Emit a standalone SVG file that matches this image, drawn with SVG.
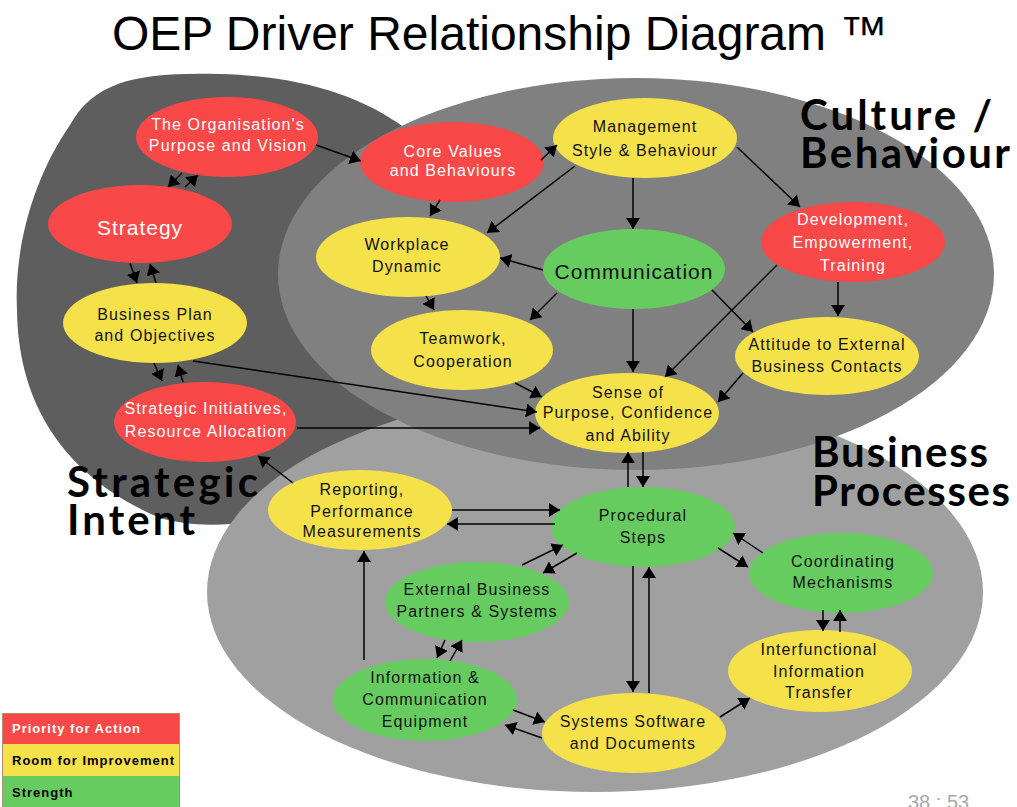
<svg xmlns="http://www.w3.org/2000/svg" width="1017" height="807" viewBox="0 0 1017 807">
  <defs>
    <marker id="ah" markerUnits="userSpaceOnUse" markerWidth="12" markerHeight="14" refX="11" refY="7" orient="auto">
      <path d="M0,0 L11,7 L0,14 Z" fill="#000"/>
    </marker>
    <style>
      .n text { font-family: "Liberation Sans", Arial, sans-serif; font-size: 16px; letter-spacing: 1.1px; text-anchor: middle; fill: #111; }
      .n ellipse { stroke: none; }
      .red ellipse { fill: #f84848; }
      .red text { fill: #ffffff; }
      .yel ellipse { fill: #f5e14a; }
      .grn ellipse { fill: #66cc60; }
      .big text { font-size: 21px; letter-spacing: 1px; }
      #connectors line { stroke: #000; stroke-width: 1.5; marker-end: url(#ah); }
      .region { font-family: Lato, "Liberation Sans", Arial, sans-serif; font-weight: bold; font-size: 42px; fill: #000; }
      .legend { font-family: "Liberation Sans", Arial, sans-serif; font-weight: bold; font-size: 13px; letter-spacing: 1px; }
    </style>
  </defs>

  <rect width="1017" height="807" fill="#ffffff"/>

  <!-- background areas -->
  <g id="areas">
    <path id="area-strategic" fill="#5e5e5e" d="M405,128 C360,95 300,76 220,74 C140,72 95,80 70,125 C32,180 14,250 17,310 C18,400 60,475 160,518 C220,535 300,520 400,470 L500,300 Z"/>
    <ellipse id="area-business" cx="595" cy="592" rx="388" ry="200" fill="#a0a0a0"/>
    <ellipse id="area-culture" cx="636" cy="274" rx="358" ry="196" fill="#808080"/>
  </g>

  <!-- title -->
  <text x="112" y="50" font-family="'Liberation Sans', Arial, sans-serif" font-size="48" fill="#000">OEP Driver Relationship Diagram ™</text>

  <!-- area labels -->
  <g id="area-labels">
    <text class="region" x="800" y="130" textLength="192">Culture /</text>
    <text class="region" x="800" y="168" textLength="210">Behaviour</text>
    <text class="region" x="812" y="467" textLength="176">Business</text>
    <text class="region" x="812" y="506" textLength="198">Processes</text>
    <text class="region" x="67" y="497" textLength="191">Strategic</text>
    <text class="region" x="67" y="535" textLength="128">Intent</text>
  </g>

  <!-- nodes -->
  <g id="n-purpose" class="n red">
    <ellipse cx="227" cy="137" rx="91" ry="40"/>
    <text x="228" y="130">The Organisation's</text>
    <text x="228" y="151">Purpose and Vision</text>
  </g>
  <g id="n-strategy" class="n red big">
    <ellipse cx="140" cy="224" rx="92" ry="39"/>
    <text x="140" y="235">Strategy</text>
  </g>
  <g id="n-plan" class="n yel">
    <ellipse cx="155" cy="323" rx="92" ry="40"/>
    <text x="155" y="320">Business Plan</text>
    <text x="155" y="341">and Objectives</text>
  </g>
  <g id="n-initiatives" class="n red">
    <ellipse cx="205" cy="422" rx="91" ry="40"/>
    <text x="206" y="414">Strategic Initiatives,</text>
    <text x="206" y="437">Resource Allocation</text>
  </g>
  <g id="n-values" class="n red">
    <ellipse cx="452" cy="162" rx="92" ry="40"/>
    <text x="453" y="157">Core Values</text>
    <text x="453" y="176">and Behaviours</text>
  </g>
  <g id="n-management" class="n yel">
    <ellipse cx="645" cy="138" rx="92" ry="40"/>
    <text x="645" y="132">Management</text>
    <text x="645" y="156">Style &amp; Behaviour</text>
  </g>
  <g id="n-workplace" class="n yel">
    <ellipse cx="408" cy="257" rx="92" ry="40"/>
    <text x="407" y="250">Workplace</text>
    <text x="407" y="272">Dynamic</text>
  </g>
  <g id="n-communication" class="n grn big">
    <ellipse cx="634" cy="269" rx="91" ry="40"/>
    <text x="634" y="279">Communication</text>
  </g>
  <g id="n-development" class="n red">
    <ellipse cx="853" cy="242" rx="92" ry="40"/>
    <text x="853" y="225">Development,</text>
    <text x="853" y="248">Empowerment,</text>
    <text x="853" y="271">Training</text>
  </g>
  <g id="n-teamwork" class="n yel">
    <ellipse cx="462" cy="350" rx="91" ry="40"/>
    <text x="463" y="344">Teamwork,</text>
    <text x="463" y="367">Cooperation</text>
  </g>
  <g id="n-attitude" class="n yel">
    <ellipse cx="827" cy="356" rx="92" ry="39"/>
    <text x="827" y="350">Attitude to External</text>
    <text x="827" y="372">Business Contacts</text>
  </g>
  <g id="n-sense" class="n yel">
    <ellipse cx="627" cy="413" rx="92" ry="40"/>
    <text x="628" y="398">Sense of</text>
    <text x="628" y="418">Purpose, Confidence</text>
    <text x="628" y="441">and Ability</text>
  </g>
  <g id="n-reporting" class="n yel">
    <ellipse cx="360" cy="510" rx="92" ry="40"/>
    <text x="362" y="495">Reporting,</text>
    <text x="362" y="517">Performance</text>
    <text x="362" y="537">Measurements</text>
  </g>
  <g id="n-procedural" class="n grn">
    <ellipse cx="643" cy="527" rx="92" ry="40"/>
    <text x="643" y="521">Procedural</text>
    <text x="643" y="543">Steps</text>
  </g>
  <g id="n-coordinating" class="n grn">
    <ellipse cx="841" cy="573" rx="92" ry="40"/>
    <text x="843" y="567">Coordinating</text>
    <text x="843" y="588">Mechanisms</text>
  </g>
  <g id="n-external" class="n grn">
    <ellipse cx="477" cy="602" rx="92" ry="40"/>
    <text x="477" y="595">External Business</text>
    <text x="477" y="617">Partners &amp; Systems</text>
  </g>
  <g id="n-interfunctional" class="n yel">
    <ellipse cx="820" cy="671" rx="92" ry="41"/>
    <text x="819" y="655">Interfunctional</text>
    <text x="819" y="677">Information</text>
    <text x="819" y="698">Transfer</text>
  </g>
  <g id="n-equipment" class="n grn">
    <ellipse cx="425" cy="700" rx="92" ry="41"/>
    <text x="425" y="683">Information &amp;</text>
    <text x="425" y="705">Communication</text>
    <text x="425" y="727">Equipment</text>
  </g>
  <g id="n-software" class="n yel">
    <ellipse cx="634" cy="733" rx="92" ry="40"/>
    <text x="633" y="727">Systems Software</text>
    <text x="633" y="749">and Documents</text>
  </g>

  <!-- connectors -->
  <g id="connectors">
    <line x1="316" y1="145" x2="361" y2="161"/>
    <line x1="182" y1="173" x2="168" y2="187"/>
    <line x1="185" y1="187" x2="198" y2="175"/>
    <line x1="130" y1="263" x2="137" y2="283"/>
    <line x1="156" y1="283" x2="150" y2="264"/>
    <line x1="154" y1="363" x2="162" y2="381"/>
    <line x1="183" y1="382" x2="178" y2="365"/>
    <line x1="193" y1="361" x2="537" y2="412"/>
    <line x1="297" y1="428" x2="540" y2="428"/>
    <line x1="293" y1="483" x2="258" y2="456"/>
    <line x1="452" y1="510" x2="560" y2="510"/>
    <line x1="555" y1="524" x2="447" y2="524"/>
    <line x1="364" y1="660" x2="364" y2="551"/>
    <line x1="522" y1="565" x2="563" y2="545"/>
    <line x1="577" y1="553" x2="543" y2="573"/>
    <line x1="445" y1="640" x2="437" y2="658"/>
    <line x1="450" y1="661" x2="462" y2="640"/>
    <line x1="513" y1="710" x2="545" y2="722"/>
    <line x1="542" y1="738" x2="505" y2="725"/>
    <line x1="633" y1="566" x2="633" y2="692"/>
    <line x1="649" y1="693" x2="649" y2="567"/>
    <line x1="720" y1="717" x2="750" y2="698"/>
    <line x1="763" y1="553" x2="733" y2="533"/>
    <line x1="718" y1="548" x2="748" y2="567"/>
    <line x1="823" y1="610" x2="823" y2="631"/>
    <line x1="840" y1="632" x2="840" y2="610"/>
    <line x1="628" y1="487" x2="628" y2="452"/>
    <line x1="643" y1="452" x2="643" y2="487"/>
    <line x1="541" y1="160" x2="557" y2="145"/>
    <line x1="440" y1="200" x2="430" y2="216"/>
    <line x1="575" y1="166" x2="487" y2="233"/>
    <line x1="633" y1="178" x2="633" y2="229"/>
    <line x1="737" y1="147" x2="800" y2="207"/>
    <line x1="543" y1="270" x2="500" y2="258"/>
    <line x1="426" y1="296" x2="434" y2="310"/>
    <line x1="557" y1="293" x2="530" y2="320"/>
    <line x1="633" y1="309" x2="633" y2="372"/>
    <line x1="712" y1="290" x2="753" y2="332"/>
    <line x1="838" y1="282" x2="838" y2="316"/>
    <line x1="777" y1="265" x2="665" y2="377"/>
    <line x1="743" y1="373" x2="718" y2="402"/>
    <line x1="515" y1="383" x2="542" y2="397"/>
  </g>

  <!-- legend -->
  <g id="legend">
    <rect x="2" y="713" width="178" height="31" fill="#f84848"/>
    <rect x="2" y="744" width="178" height="32" fill="#f5e14a"/>
    <rect x="2" y="776" width="178" height="31" fill="#66cc60"/>
    <rect x="2.5" y="713.5" width="177" height="94" fill="none" stroke="#b09070" stroke-width="1"/>
    <text class="legend" x="12" y="733" fill="#ffffff">Priority for Action</text>
    <text class="legend" x="12" y="765" fill="#000">Room for Improvement</text>
    <text class="legend" x="12" y="797" fill="#000">Strength</text>
  </g>

  <text x="908" y="809" font-family="'Liberation Sans', Arial, sans-serif" font-size="20" fill="#a8a8a8">38 : 53</text>
</svg>
